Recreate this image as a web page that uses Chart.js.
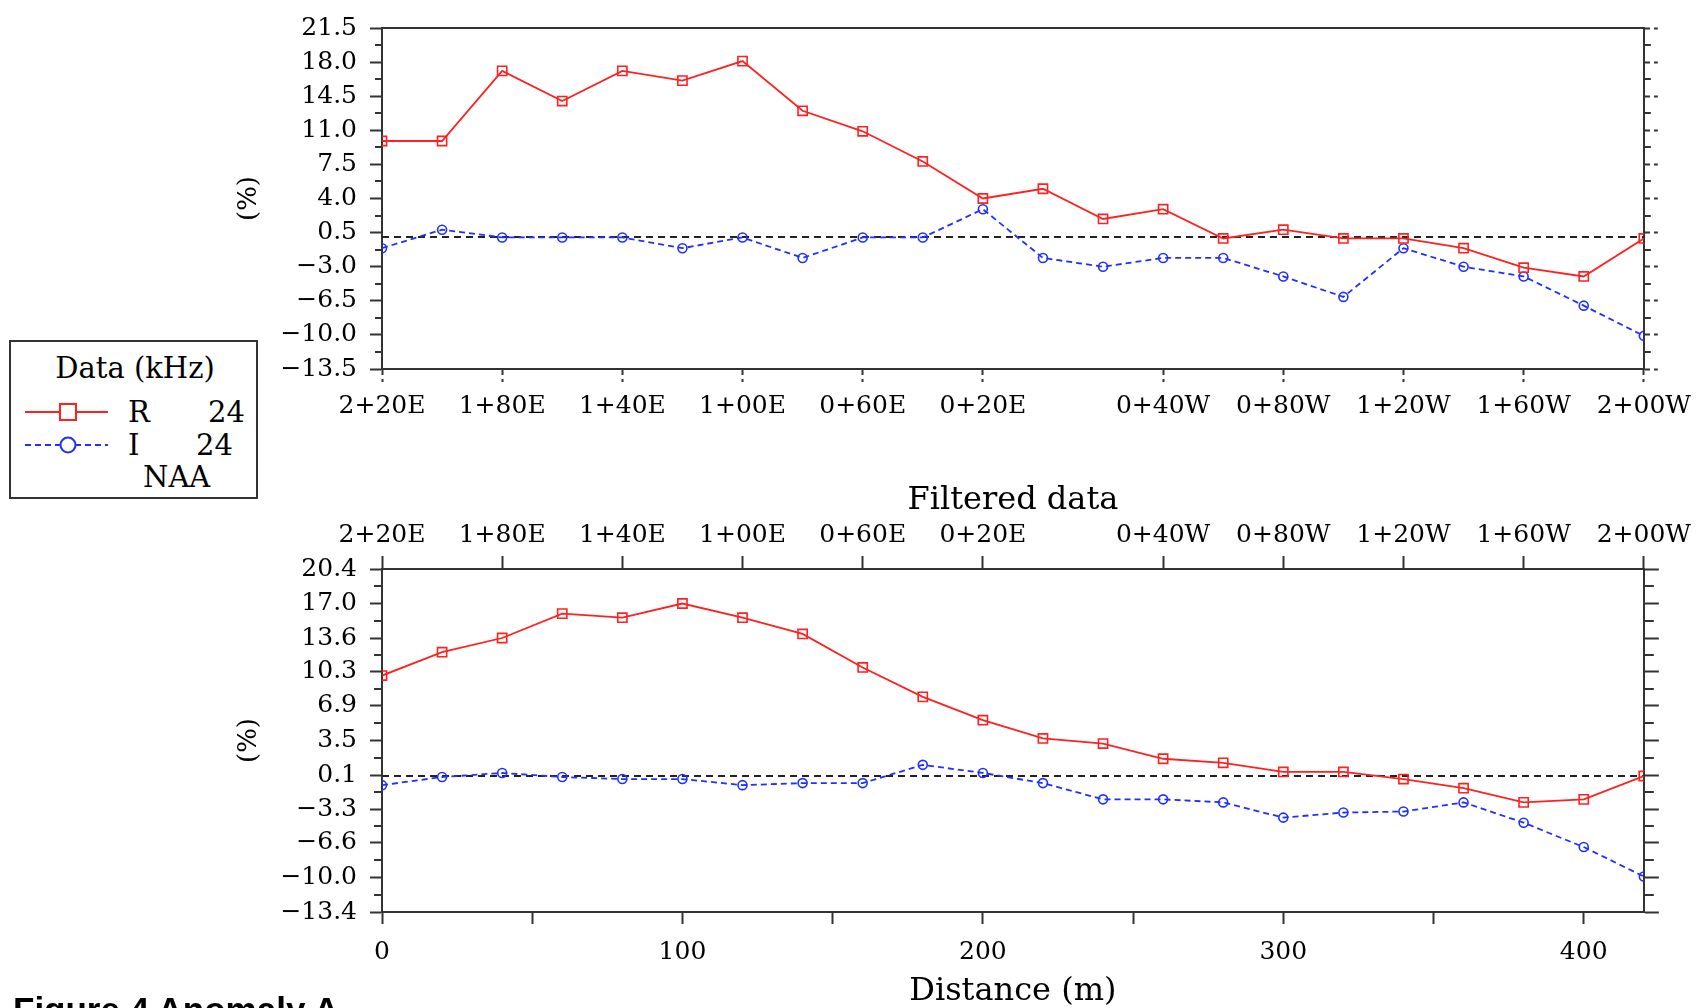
<!DOCTYPE html>
<html>
<head>
<meta charset="utf-8">
<script src="https://cdn.jsdelivr.net/npm/chart.js@4.4.1/dist/chart.umd.min.js"></script>
<style>
  body { margin: 0; width: 1697px; height: 1008px; background: #fff; position: relative; overflow: hidden; }
  canvas { position: absolute; left: 0; }
  #rawCanvas { top: 0; }
  #filtCanvas { top: 440px; }
  #legend { position: absolute; left: 9px; top: 340px; }
  #caption { position: absolute; left: 13px; top: 993px; font: bold 35px/34px 'Liberation Sans', Arial, sans-serif; color: #000; white-space: nowrap; }
</style>
</head>
<body>
<canvas id="rawCanvas" width="1697" height="440"></canvas>
<canvas id="filtCanvas" width="1697" height="568"></canvas>

<svg id="legend" width="249" height="159" font-family="DejaVu Serif" font-size="29" fill="#000">
  <rect x="1" y="1" width="247" height="157" fill="#fff" stroke="#333" stroke-width="2"/>
  <text x="126" y="28" text-anchor="middle" dominant-baseline="central">Data (kHz)</text>
  <line x1="16" y1="72" x2="99" y2="72" stroke="#ff2020" stroke-width="2"/>
  <rect x="51" y="64" width="16" height="16" fill="#fff" stroke="#ff2020" stroke-width="2"/>
  <text x="119" y="72" dominant-baseline="central">R</text>
  <text x="236" y="72" text-anchor="end" dominant-baseline="central">24</text>
  <line x1="16" y1="105" x2="99" y2="105" stroke="#2030ff" stroke-width="2" stroke-dasharray="6,4"/>
  <circle cx="59" cy="105" r="7.5" fill="#fff" stroke="#2030ff" stroke-width="2"/>
  <text x="119" y="105" dominant-baseline="central">I</text>
  <text x="224" y="105" text-anchor="end" dominant-baseline="central">24</text>
  <text x="134" y="137" dominant-baseline="central">NAA</text>
</svg>

<div id="caption">Figure 4 Anomaly A</div>

<script>
// stations every 20 m along the line
const distance = [0, 20, 40, 60, 80, 100, 120, 140, 160, 180, 200, 220, 240, 260, 280, 300, 320, 340, 360, 380, 400, 420];

// raw data (top panel)
const rawR = [9.9, 9.9, 17.1, 14.0, 17.1, 16.1, 18.1, 13.0, 10.9, 7.8, 4.0, 5.0, 1.9, 2.9, -0.1, 0.8, -0.1, -0.1, -1.1, -3.1, -4.0, -0.1];
const rawI = [-1.1, 0.8, 0.0, 0.0, 0.0, -1.1, 0.0, -2.1, 0.0, 0.0, 2.9, -2.1, -3.0, -2.1, -2.1, -4.0, -6.1, -1.1, -3.0, -4.0, -7.0, -10.1];

// filtered data (bottom panel)
const filtR = [9.9, 12.2, 13.6, 16.0, 15.6, 17.0, 15.6, 14.0, 10.7, 7.8, 5.5, 3.7, 3.2, 1.7, 1.3, 0.4, 0.4, -0.3, -1.2, -2.6, -2.3, 0.0];
const filtI = [-0.9, -0.1, 0.3, -0.1, -0.3, -0.3, -0.9, -0.7, -0.7, 1.1, 0.3, -0.7, -2.3, -2.3, -2.6, -4.1, -3.6, -3.5, -2.6, -4.6, -7.0, -9.9];

// axis ticks
const rawYTicks = [-13.5, -10.0, -6.5, -3.0, 0.5, 4.0, 7.5, 11.0, 14.5, 18.0, 21.5];
const filtYTicks = [-13.4, -10.0, -6.6, -3.3, 0.1, 3.5, 6.9, 10.3, 13.6, 17.0, 20.4];
const stationTicks = [0, 40, 80, 120, 160, 200, 260, 300, 340, 380, 420];
const stationLabels = ['2+20E', '1+80E', '1+40E', '1+00E', '0+60E', '0+20E', '0+40W', '0+80W', '1+20W', '1+60W', '2+00W'];
const distTicks = [0, 50, 100, 150, 200, 250, 300, 350, 400];
const distLabels = ['0', '', '100', '', '200', '', '300', '', '400'];

const frame = '#333';
const redCol = '#ff2020';
const blueCol = '#2030ff';

Chart.defaults.font.family = "'DejaVu Serif', serif";
Chart.defaults.font.size = 25;
Chart.defaults.color = '#000';

const setTicks = values => scale => { scale.ticks = values.map(v => ({ value: v })); };
const fmt = v => (v < 0 ? '\u2212' : '') + Math.abs(v).toFixed(1);

// dashed line at zero
const zeroLine = {
    id: 'zeroLine',
    beforeDatasetsDraw(chart) {
        const { ctx, chartArea } = chart;
        const py = Math.round(chart.scales.y.getPixelForValue(0));
        ctx.save();
        ctx.strokeStyle = '#222';
        ctx.lineWidth = 2;
        ctx.setLineDash([7, 5]);
        ctx.beginPath();
        ctx.moveTo(chartArea.left, py);
        ctx.lineTo(chartArea.right, py);
        ctx.stroke();
        ctx.restore();
    }
};

// short ticks between the labelled ones, both sides
const minorTicks = {
    id: 'minorTicks',
    afterDraw(chart, args, opts) {
        const { ctx, chartArea } = chart;
        const y = chart.scales.y;
        const vals = y.ticks.map(t => t.value);
        ctx.save();
        ctx.strokeStyle = frame;
        ctx.lineWidth = 2;
        for (let i = 0; i < vals.length - 1; i++) {
            const py = Math.round(y.getPixelForValue((vals[i] + vals[i + 1]) / 2));
            ctx.setLineDash([]);
            ctx.beginPath();
            ctx.moveTo(chartArea.left - opts.left, py);
            ctx.lineTo(chartArea.left, py);
            ctx.stroke();
            ctx.setLineDash(opts.rightDash);
            ctx.beginPath();
            ctx.moveTo(chartArea.right, py);
            ctx.lineTo(chartArea.right + opts.right, py);
            ctx.stroke();
        }
        ctx.restore();
    }
};

function makeDatasets(rVals, iVals) {
    return [{
        label: 'R 24',
        data: distance.map((d, i) => ({ x: d, y: rVals[i] })),
        borderColor: redCol,
        borderWidth: 1.8,
        pointStyle: 'rect',
        pointRadius: 6.5,
        pointBorderWidth: 1.6,
        pointBackgroundColor: 'rgba(0,0,0,0)',
        pointBorderColor: redCol,
        tension: 0
    }, {
        label: 'I 24',
        data: distance.map((d, i) => ({ x: d, y: iVals[i] })),
        borderColor: blueCol,
        borderWidth: 1.8,
        borderDash: [6, 4],
        pointStyle: 'circle',
        pointRadius: 4.5,
        pointBorderWidth: 1.6,
        pointBackgroundColor: 'rgba(0,0,0,0)',
        pointBorderColor: blueCol,
        tension: 0
    }];
}

function yAxes(yTicks) {
    const lo = yTicks[0], hi = yTicks[yTicks.length - 1];
    return {
        y: {
            type: 'linear', position: 'left', min: lo, max: hi,
            afterBuildTicks: setTicks(yTicks),
            afterFit: s => { s.width = 382; },
            ticks: { callback: fmt, padding: 13 },
            grid: { drawOnChartArea: false, tickLength: 12, tickColor: frame, tickWidth: 2 },
            border: { color: frame, width: 2 },
            title: { display: true, text: '(%)', font: { size: 26 }, padding: { top: 234, bottom: 0 } }
        }
    };
}

// top panel: raw data
const rawScales = yAxes(rawYTicks);
rawScales.yR = {
    type: 'linear', position: 'right', min: rawYTicks[0], max: rawYTicks[rawYTicks.length - 1],
    afterBuildTicks: setTicks(rawYTicks),
    afterFit: s => { s.width = 53; },
    ticks: { display: false },
    grid: { drawOnChartArea: false, tickLength: 14, tickColor: frame, tickWidth: 2, tickBorderDash: [5, 4] },
    border: { color: frame, width: 2 }
};
rawScales.x = {
    type: 'linear', position: 'bottom', min: 0, max: 420,
    afterBuildTicks: setTicks(stationTicks),
    afterFit: s => { s.height = 71; },
    ticks: { callback: (v, i) => stationLabels[i], padding: 6, font: { lineHeight: 1.5 }, autoSkip: false, maxRotation: 0, minRotation: 0 },
    grid: { drawOnChartArea: false, tickLength: 13, tickColor: frame, tickWidth: 2, tickBorderDash: [5, 4] },
    border: { color: frame, width: 2 }
};
rawScales.xT = {
    type: 'linear', position: 'top', min: 0, max: 420,
    afterFit: s => { s.height = 24; },
    ticks: { display: false },
    grid: { display: false },
    border: { color: frame, width: 2 }
};

new Chart(document.getElementById('rawCanvas'), {
    type: 'line',
    data: { datasets: makeDatasets(rawR, rawI) },
    options: {
        responsive: false,
        animation: false,
        layout: { padding: 0 },
        scales: rawScales,
        plugins: {
            legend: { display: false },
            tooltip: { enabled: false },
            minorTicks: { left: 7, right: 7, rightDash: [] }
        }
    },
    plugins: [zeroLine, minorTicks]
});

// bottom panel: filtered data
const filtScales = yAxes(filtYTicks);
filtScales.yR = {
    type: 'linear', position: 'right', min: filtYTicks[0], max: filtYTicks[filtYTicks.length - 1],
    afterBuildTicks: setTicks(filtYTicks),
    afterFit: s => { s.width = 53; },
    ticks: { display: false },
    grid: { drawOnChartArea: false, tickLength: 15, tickColor: frame, tickWidth: 2 },
    border: { color: frame, width: 2 }
};
filtScales.x = {
    type: 'linear', position: 'bottom', min: 0, max: 420,
    afterBuildTicks: setTicks(distTicks),
    afterFit: s => { s.height = 96; },
    ticks: { callback: (v, i) => distLabels[i], padding: 13, autoSkip: false, maxRotation: 0, minRotation: 0 },
    grid: { drawOnChartArea: false, tickLength: 12, tickColor: frame, tickWidth: 2 },
    border: { color: frame, width: 2 },
    title: { display: true, text: 'Distance (m)', font: { size: 32 }, padding: { top: 0, bottom: -3 } }
};
filtScales.xT = {
    type: 'linear', position: 'top', min: 0, max: 420,
    afterBuildTicks: setTicks(stationTicks),
    afterFit: s => { s.height = 129; },
    ticks: { callback: (v, i) => stationLabels[i], padding: 6, autoSkip: false, maxRotation: 0, minRotation: 0 },
    grid: { drawOnChartArea: false, tickLength: 13, tickColor: frame, tickWidth: 2 },
    border: { color: frame, width: 2 },
    title: { display: true, text: 'Filtered data', font: { size: 32 }, padding: { top: 41, bottom: 0 } }
};

new Chart(document.getElementById('filtCanvas'), {
    type: 'line',
    data: { datasets: makeDatasets(filtR, filtI) },
    options: {
        responsive: false,
        animation: false,
        layout: { padding: 0 },
        scales: filtScales,
        plugins: {
            legend: { display: false },
            tooltip: { enabled: false },
            minorTicks: { left: 8, right: 10, rightDash: [] }
        }
    },
    plugins: [zeroLine, minorTicks]
});
</script>
</body>
</html>
